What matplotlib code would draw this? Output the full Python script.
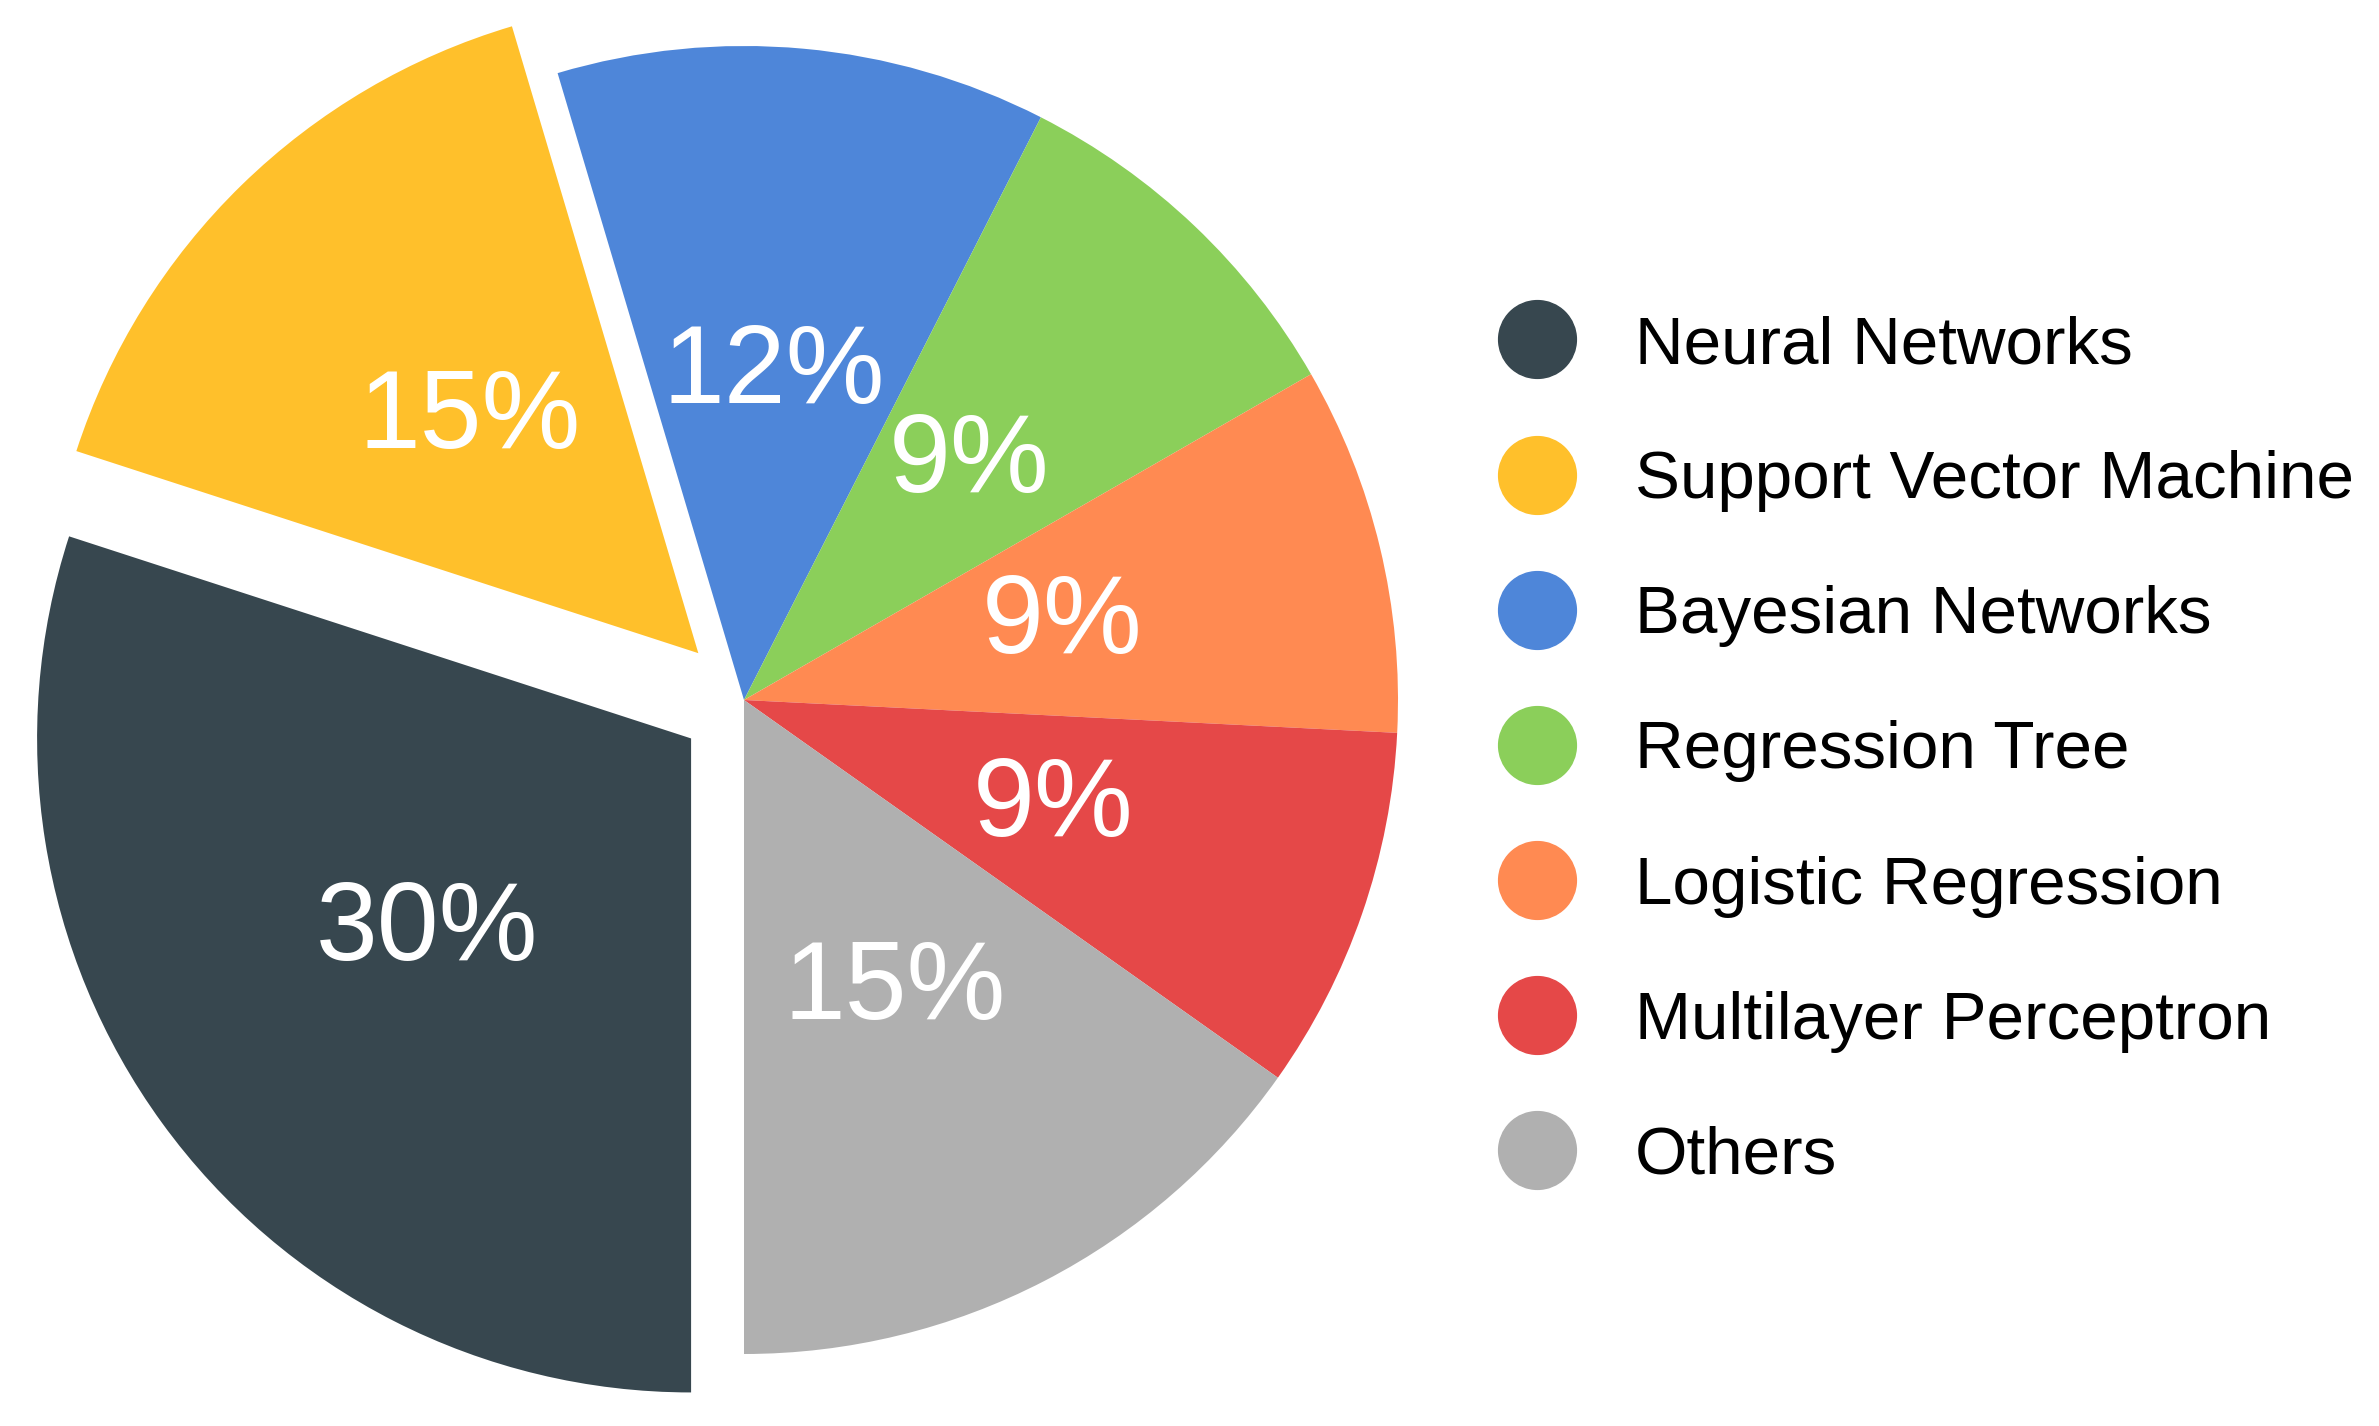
import matplotlib
matplotlib.use('Agg')
import matplotlib.pyplot as plt
from matplotlib.lines import Line2D

plt.rcParams['font.family'] = ['Liberation Sans', 'DejaVu Sans']

# data (percent shares)
labels = ['Neural Networks',
          'Support Vector Machine',
          'Bayesian Networks',
          'Regression Tree',
          'Logistic Regression',
          'Multilayer Perceptron',
          'Others']
shares = [30, 15.4, 12.1, 9.2, 9.1, 9.0, 15.2]
explode = [0.1, 0.1, 0, 0, 0, 0, 0]

colors = ['#37474F', '#FFC02B', '#4E86D9', '#8BCF5A',
          '#FF8A52', '#E54848', '#B0B0B0']

W, H = 2379, 1426
fig = plt.figure(figsize=(W / 100, H / 100), dpi=100)
ax = fig.add_axes([0, 0, 1, 1])

# pie centre and radius in pixels
cx, cy, r = 744, 700, 654

wedges, texts, autotexts = ax.pie(shares, explode=explode, colors=colors,
                                  startangle=-90, counterclock=False,
                                  autopct='%.0f%%', pctdistance=0.5,
                                  radius=1,
                                  wedgeprops=dict(linewidth=0),
                                  textprops=dict(color='white', fontsize=80))

ax.set_aspect('auto')
ax.set_xlim(-cx / r, (W - cx) / r)
ax.set_ylim(-(H - cy) / r, cy / r)
ax.axis('off')

# legend with round markers
handles = []
for lab, col in zip(labels, colors):
    h = Line2D([], [], marker='o', linestyle='', markersize=56,
               markerfacecolor=col, markeredgecolor=col, label=lab)
    handles.append(h)

ax.legend(handles=handles, loc='upper left',
          bbox_to_anchor=(1503 / W, 1 - 315 / H),
          bbox_transform=fig.transFigure,
          frameon=False, fontsize=48.5,
          handlelength=1.0, handletextpad=0.96,
          labelspacing=1.086, borderpad=0, borderaxespad=0)

fig.savefig('out.png', dpi=100, facecolor='white')
